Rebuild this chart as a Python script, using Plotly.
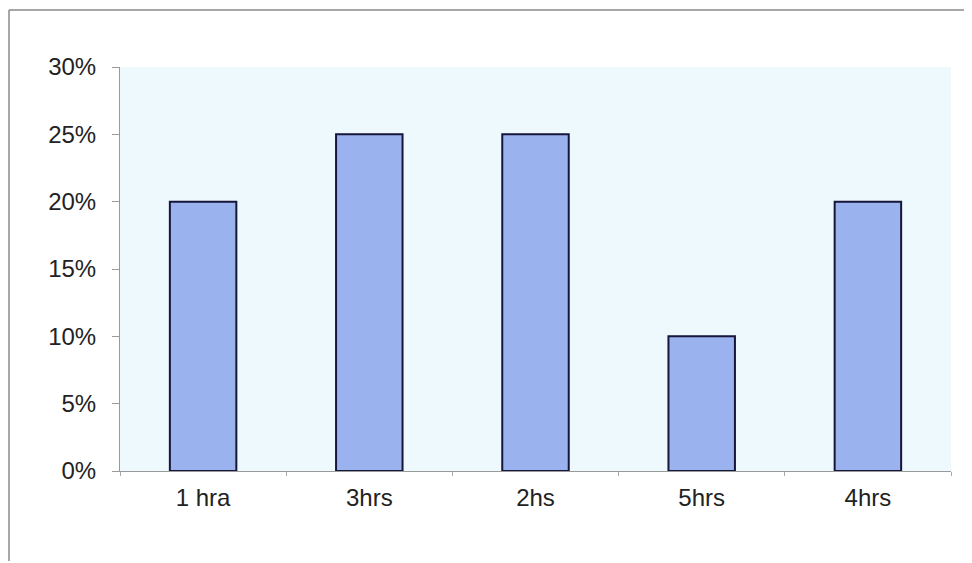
import plotly.graph_objects as go

categories = ["1 hra", "3hrs", "2hs", "5hrs", "4hrs"]
values = [0.20, 0.25, 0.25, 0.10, 0.20]
y_ticks = [0, 0.05, 0.10, 0.15, 0.20, 0.25, 0.30]
y_tick_labels = ["0%", "5%", "10%", "15%", "20%", "25%", "30%"]

# page has an 8px body margin, so figure coords = page coords - 8
W, H = 962, 553
L, T = 112, 59
R = W - 943
B = H - 463
pw, ph = W - L - R, H - T - B

def px_x(x):
    return (x - L) / pw

def px_y(y):
    return (H - B - y) / ph

fig = go.Figure(go.Bar(
    x=categories, y=values,
    marker=dict(color="#9ab2ed", line=dict(color="#15163a", width=2)),
    width=0.4,
))

fig.update_layout(
    width=W, height=H,
    margin=dict(l=L, r=R, t=T, b=B),
    paper_bgcolor="white",
    plot_bgcolor="#eef9fd",
    showlegend=False,
    font=dict(family="Liberation Sans, Arial", size=24, color="#222222"),
    xaxis=dict(
        showline=True, linecolor="#9a9a9a", linewidth=1,
        ticks="outside", tickson="boundaries", ticklen=4, tickcolor="#aaaaaa",
        ticklabelstandoff=5,
        showgrid=False, range=[-0.5, 4.5],
        tickfont=dict(size=24),
    ),
    yaxis=dict(
        range=[0, 0.30], tickvals=y_ticks, ticktext=y_tick_labels,
        showline=True, linecolor="#9a9a9a", linewidth=1,
        ticks="outside", ticklen=7, tickcolor="#9a9a9a",
        ticklabelstandoff=11,
        showgrid=False, zeroline=False, tickfont=dict(size=24),
    ),
    shapes=[
        dict(type="line", xref="paper", yref="paper",
             x0=px_x(1), x1=px_x(W), y0=px_y(2), y1=px_y(2),
             line=dict(color="#8a8a8a", width=1.5)),
        dict(type="line", xref="paper", yref="paper",
             x0=px_x(1), x1=px_x(1), y0=px_y(2), y1=px_y(H),
             line=dict(color="#8a8a8a", width=1.5)),
    ],
)

fig.write_html("out.html")
